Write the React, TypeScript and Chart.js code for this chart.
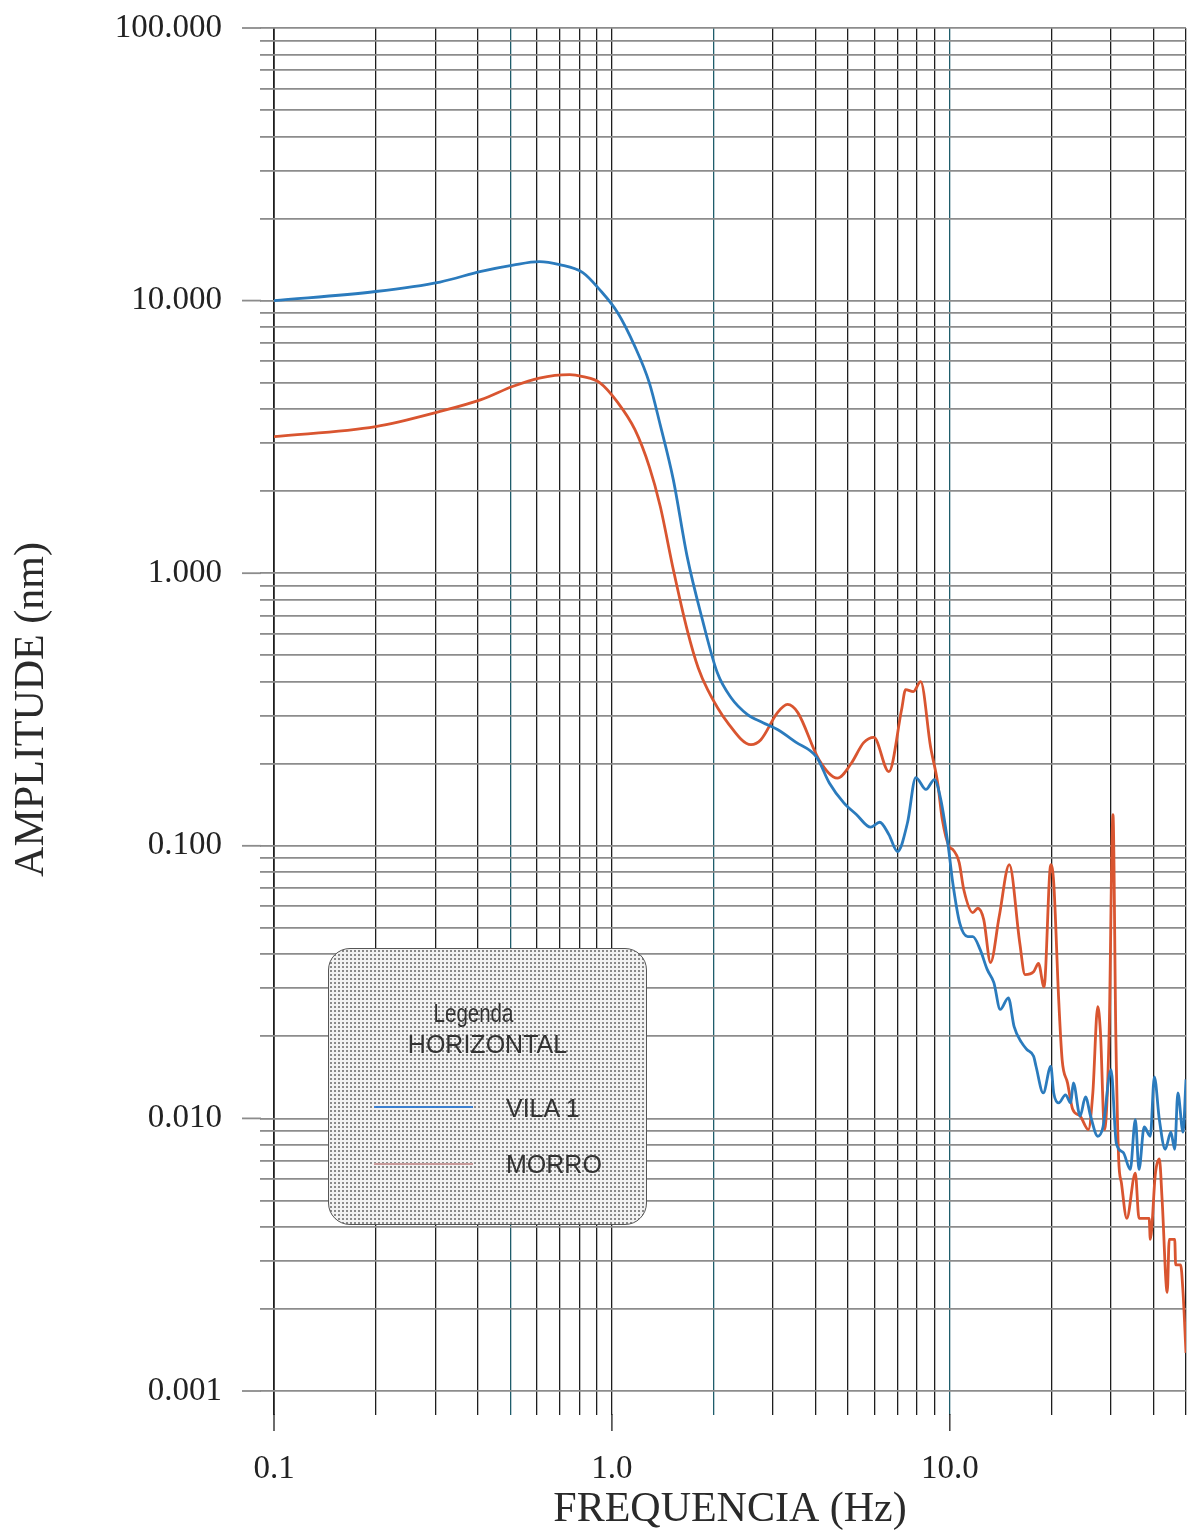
import React, { useEffect, useRef } from 'react';
import { Chart, registerables } from 'chart.js';

Chart.register(...registerables);

// ---- data ----
const vilaFreq = [0.1, 0.2, 0.31, 0.41, 0.51, 0.61, 0.7, 0.82, 0.92, 1.04, 1.17, 1.29, 1.39, 1.52, 1.67, 1.85, 2.05, 2.25, 2.52, 2.8, 3.09, 3.5, 4.04, 4.4, 4.85, 5.3, 5.83, 6.2, 6.6, 7.0, 7.5, 7.93, 8.5, 9.0, 9.4, 9.9, 10.2, 10.7, 11.3, 11.7, 12.3, 12.9, 13.5, 14.1, 14.9, 15.5, 16.3, 16.9, 17.7, 18.0, 18.9, 19.9, 20.3, 21.0, 22.0, 22.8, 23.2, 24.3, 25.2, 26.1, 27.4, 28.4, 30.0, 31.1, 32.6, 34.2, 35.4, 36.3, 37.6, 39.2, 40.3, 41.7, 43.4, 45.1, 46.3, 47.3, 49.0, 50.0];
const vilaAmp = [10.0, 10.8, 11.7, 12.8, 13.5, 13.9, 13.55, 12.67, 10.97, 9.03, 6.78, 5.0, 3.5, 2.2, 1.15, 0.68, 0.432, 0.35, 0.303, 0.283, 0.267, 0.24, 0.211, 0.17, 0.144, 0.13, 0.117, 0.122, 0.11, 0.0953, 0.122, 0.178, 0.161, 0.175, 0.148, 0.099, 0.0733, 0.052, 0.0464, 0.0464, 0.0416, 0.0352, 0.0315, 0.0251, 0.0277, 0.0217, 0.019, 0.0179, 0.0169, 0.0155, 0.0124, 0.0155, 0.0124, 0.0114, 0.0122, 0.0114, 0.0135, 0.0102, 0.012, 0.0102, 0.0086, 0.0093, 0.0151, 0.0081, 0.0075, 0.0065, 0.0099, 0.0065, 0.0093, 0.0086, 0.0142, 0.0099, 0.0077, 0.0089, 0.0077, 0.0124, 0.0089, 0.0139];

const morroFreq = [0.1, 0.2, 0.31, 0.41, 0.51, 0.61, 0.75, 0.82, 0.92, 1.04, 1.17, 1.29, 1.39, 1.52, 1.67, 1.8, 1.92, 2.2, 2.58, 2.76, 3.09, 3.31, 3.55, 4.1, 4.65, 5.1, 5.56, 5.96, 6.6, 7.2, 7.4, 7.8, 8.2, 8.77, 9.2, 9.5, 9.97, 10.2, 10.66, 11.0, 11.7, 12.1, 12.6, 13.2, 14.0, 15.0, 16.1, 16.7, 17.7, 18.3, 19.0, 19.9, 20.3, 21.0, 21.5, 22.3, 23.1, 24.3, 25.7, 26.5, 27.4, 27.9, 28.7, 29.6, 30.4, 31.0, 31.6, 32.2, 33.4, 35.4, 36.3, 38.9, 39.2, 40.6, 41.7, 42.5, 44.0, 44.6, 46.3, 46.6, 48.2, 49.0, 50.0];
const morroAmp = [3.17, 3.45, 3.92, 4.33, 4.85, 5.2, 5.35, 5.26, 5.0, 4.23, 3.36, 2.46, 1.76, 1.03, 0.62, 0.45, 0.374, 0.283, 0.235, 0.245, 0.308, 0.33, 0.308, 0.207, 0.177, 0.2, 0.239, 0.25, 0.187, 0.316, 0.374, 0.368, 0.4, 0.231, 0.171, 0.125, 0.099, 0.097, 0.0868, 0.069, 0.0569, 0.059, 0.0536, 0.0373, 0.055, 0.0853, 0.0442, 0.0337, 0.0345, 0.037, 0.0304, 0.0853, 0.0733, 0.0273, 0.0164, 0.0135, 0.0108, 0.0102, 0.0091, 0.0124, 0.0257, 0.0209, 0.0091, 0.02, 0.13, 0.02, 0.0071, 0.0058, 0.0043, 0.0063, 0.0043, 0.0043, 0.0036, 0.0063, 0.0071, 0.005, 0.0023, 0.0036, 0.0036, 0.0029, 0.0029, 0.0023, 0.00138];

const seriesNames = ['VILA 1', 'MORRO'];
const xDecades = [0.1, 1, 10];
const xTickLabels = ['0.1', '1.0', '10.0'];
const xMin = 0.1;
const xMax = 50;
const yDecades = [0.001, 0.01, 0.1, 1, 10, 100];
const yTickLabels = ['0.001', '0.010', '0.100', '1.000', '10.000', '100.000'];
const yMin = 0.001;
const yMax = 100;

const buildTicks = (decades: number[], lo: number, hi: number) => {
  const out: number[] = [];
  decades.forEach((d) => {
    for (let m = 1; m <= 9; m++) {
      const v = Number((m * d).toPrecision(6));
      if (v >= lo - 1e-12 && v <= hi + 1e-9) out.push(v);
    }
  });
  return Array.from(new Set(out)).sort((a, b) => a - b);
};
const isMajor = (v: number) => Math.abs(Math.log10(v) - Math.round(Math.log10(v))) < 1e-6;
const labelOf = (v: number, decades: number[], labels: string[]) => {
  const i = decades.findIndex((d) => Math.abs(d - v) / d < 1e-6);
  return i >= 0 ? labels[i] : '';
};
const tealLines = [0.5, 2, 10];

const W = 1195;
const H = 1535;

const majorTickPlugin = {
  id: 'majorTickExt',
  afterDraw(chart: any) {
    const { ctx, scales } = chart;
    const x = scales.x;
    const y = scales.y;
    ctx.save();
    ctx.strokeStyle = '#8c8c8c';
    ctx.lineWidth = 1.8;
    yDecades.forEach((v) => {
      const py = y.getPixelForValue(v);
      ctx.beginPath();
      ctx.moveTo(x.left - 32, py);
      ctx.lineTo(x.left - 13, py);
      ctx.stroke();
    });
    ctx.strokeStyle = '#1e1e1e';
    ctx.lineWidth = 1.3;
    xDecades.forEach((v) => {
      const px = x.getPixelForValue(v);
      ctx.beginPath();
      ctx.moveTo(px, y.bottom + 23);
      ctx.lineTo(px, y.bottom + 40);
      ctx.stroke();
    });
    ctx.restore();
  },
};

export default function App() {
  const ref = useRef<HTMLCanvasElement | null>(null);

  useEffect(() => {
    if (!ref.current) return;
    const xTicks = buildTicks(xDecades, xMin, xMax);
    const yTicks = buildTicks(yDecades, yMin, yMax);
    const chart = new Chart(ref.current, {
      type: 'line',
      data: {
        datasets: [
          {
            label: seriesNames[0],
            data: vilaFreq.map((f, i) => ({ x: f, y: vilaAmp[i] })),
            borderColor: '#2b7bbd',
            borderWidth: 2.8,
            pointRadius: 0,
            cubicInterpolationMode: 'monotone',
            fill: false,
          },
          {
            label: seriesNames[1],
            data: morroFreq.map((f, i) => ({ x: f, y: morroAmp[i] })),
            borderColor: '#d95530',
            borderWidth: 2.8,
            pointRadius: 0,
            cubicInterpolationMode: 'monotone',
            fill: false,
          },
        ],
      },
      options: {
        responsive: false,
        animation: false,
        layout: { padding: { top: 28, right: 9, left: 0, bottom: 0 } },
        plugins: { legend: { display: false }, tooltip: { enabled: false } },
        scales: {
          x: {
            type: 'logarithmic',
            min: xMin,
            max: xMax,
            afterBuildTicks: (s: any) => {
              s.ticks = xTicks.map((v) => ({ value: v, major: isMajor(v) }));
            },
            afterFit: (s: any) => {
              s.height = 144;
              s.paddingLeft = 0;
              s.paddingRight = 0;
            },
            border: { display: false },
            grid: {
              color: (c: any) => (c.tick && tealLines.some((t) => Math.abs(t - c.tick.value) / t < 1e-6) ? '#1f5d6b' : '#1e1e1e'),
              lineWidth: (c: any) => (c.tick && Math.abs(c.tick.value - xMin) < 1e-9 ? 1.8 : 1.3),
              drawTicks: true,
              tickLength: 24,
            },
            ticks: {
              autoSkip: false,
              maxRotation: 0,
              padding: 35,
              color: '#222',
              font: { family: '"Liberation Serif", "Times New Roman", serif', size: 33 },
              callback: (v: any) => labelOf(Number(v), xDecades, xTickLabels),
            },
            title: {
              display: true,
              text: 'FREQUENCIA (Hz)',
              color: '#2a2a2a',
              font: { family: '"Liberation Serif", "Times New Roman", serif', size: 42 },
              padding: { top: 0, bottom: 0 },
            },
          },
          y: {
            type: 'logarithmic',
            min: yMin,
            max: yMax,
            afterBuildTicks: (s: any) => {
              s.ticks = yTicks.map((v) => ({ value: v, major: isMajor(v) }));
            },
            afterFit: (s: any) => {
              s.width = 274;
              s.paddingTop = 0;
              s.paddingBottom = 0;
            },
            border: { display: false },
            grid: {
              color: '#8c8c8c',
              lineWidth: 1.8,
              drawTicks: true,
              tickLength: 14,
            },
            ticks: {
              autoSkip: false,
              padding: 38,
              color: '#222',
              font: { family: '"Liberation Serif", "Times New Roman", serif', size: 33 },
              callback: (v: any) => labelOf(Number(v), yDecades, yTickLabels),
            },
            title: {
              display: true,
              text: 'AMPLITUDE (nm)',
              color: '#2a2a2a',
              font: { family: '"Liberation Serif", "Times New Roman", serif', size: 42 },
              padding: { top: 7, bottom: 0 },
            },
          },
        },
      },
      plugins: [majorTickPlugin],
    } as any);
    return () => chart.destroy();
  }, []);

  const legendFont = '"Liberation Sans", Arial, sans-serif';
  return (
    <div style={{ position: 'absolute', left: 0, top: 0, width: W, height: H, background: '#fff' }}>
      <canvas ref={ref} width={W} height={H} style={{ display: 'block', width: W, height: H }} />
      <div
        style={{
          position: 'absolute',
          left: 328,
          top: 948,
          width: 317,
          height: 275,
          border: '1.5px solid #555',
          borderRadius: 22,
          backgroundColor: '#f2f2f2',
          backgroundImage: 'radial-gradient(circle, #8a8a8a 0.9px, transparent 1.1px)',
          backgroundSize: '4px 4px',
          fontFamily: legendFont,
          color: '#333',
        }}
      >
        <div style={{ position: 'absolute', left: -14, width: 317, top: 49, textAlign: 'center', fontSize: 25, lineHeight: '30px', transform: 'scaleX(0.82)' }}>Legenda</div>
        <div style={{ position: 'absolute', left: 0, width: 317, top: 80, textAlign: 'center', fontSize: 25, lineHeight: '30px' }}>HORIZONTAL</div>
        <div style={{ position: 'absolute', left: 45, top: 157, width: 99, height: 2, background: '#3a7fd0' }} />
        <div style={{ position: 'absolute', left: 177, top: 144, fontSize: 25, lineHeight: '30px' }}>{seriesNames[0]}</div>
        <div style={{ position: 'absolute', left: 45, top: 214, width: 99, height: 2, background: '#c99a9a' }} />
        <div style={{ position: 'absolute', left: 177, top: 200, fontSize: 25, lineHeight: '30px' }}>{seriesNames[1]}</div>
      </div>
    </div>
  );
}
